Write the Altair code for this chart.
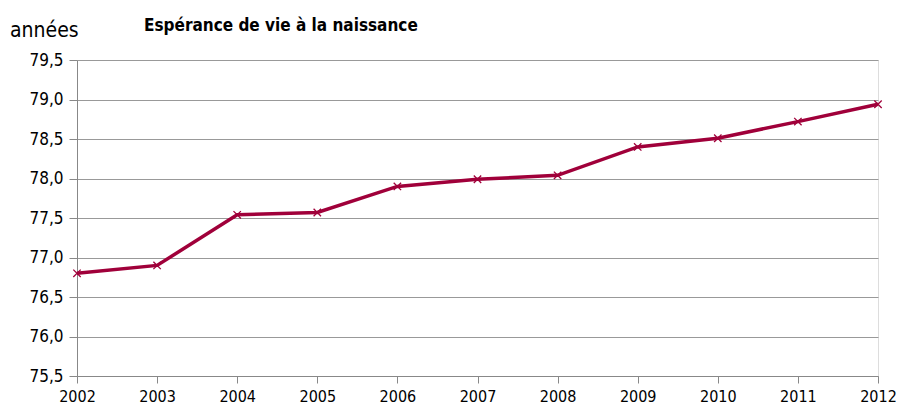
import altair as alt
import pandas as pd

years = [2002, 2003, 2004, 2005, 2006, 2007, 2008, 2009, 2010, 2011, 2012]
esperance = [76.80, 76.90, 77.54, 77.57, 77.90, 77.99, 78.04, 78.40, 78.51, 78.72, 78.94]
y_ticks = [75.5, 76.0, 76.5, 77.0, 77.5, 78.0, 78.5, 79.0, 79.5]

df = pd.DataFrame({"annee": years, "valeur": esperance})

FONT = "DejaVu Sans Condensed"
COLOR = "#A0003A"

x = alt.X("annee:Q", scale=alt.Scale(domain=[2002, 2012], nice=False, zero=False),
          axis=alt.Axis(values=years, format="d", title=None, grid=False,
                        labelFontSize=16, labelFont=FONT, labelColor="#000",
                        labelPadding=5, tickSize=7, tickColor="#888", domainColor="#888",
                        labelFlush=False, labelOverlap=False))
y = alt.Y("valeur:Q", scale=alt.Scale(domain=[75.5, 79.5], nice=False, zero=False),
          axis=alt.Axis(values=y_ticks, title=None, grid=True, gridColor="#999",
                        gridWidth=1.2, labelExpr="replace(format(datum.value, '.1f'), '.', ',')",
                        labelFontSize=17, labelFont=FONT, labelColor="#000",
                        labelPadding=6, tickSize=8, tickColor="#888", domainColor="#888",
                        labelOverlap=False, tickMinStep=0.5))

base = alt.Chart(df).encode(x=x, y=y)
line = base.mark_line(color=COLOR, strokeWidth=3.5)
pts = base.mark_point(shape="M-1,-1L1,1M-1,1L1,-1", size=55, color=COLOR,
                      strokeWidth=1.3, filled=False, opacity=1)

label = alt.Chart(pd.DataFrame({"t": ["années"]})).mark_text(
    font=FONT, fontSize=21, align="left", baseline="alphabetic", color="#000"
).encode(x=alt.value(-67), y=alt.value(-23), text="t:N")

title = alt.Chart(pd.DataFrame({"t": ["Espérance de vie à la naissance"]})).mark_text(
    font=FONT, fontSize=17, fontWeight="bold", align="left", baseline="alphabetic", color="#000"
).encode(x=alt.value(67), y=alt.value(-29), text="t:N")

chart = alt.layer(line, pts, label, title).properties(
    width=801, height=316,
    autosize=alt.AutoSizeParams(type="none"),
    padding={"left": 69, "top": 52, "right": 18, "bottom": 28},
).configure_view(stroke=None).configure(background="white")

chart.save("out.html", embed_options={"renderer": "svg", "actions": False})
